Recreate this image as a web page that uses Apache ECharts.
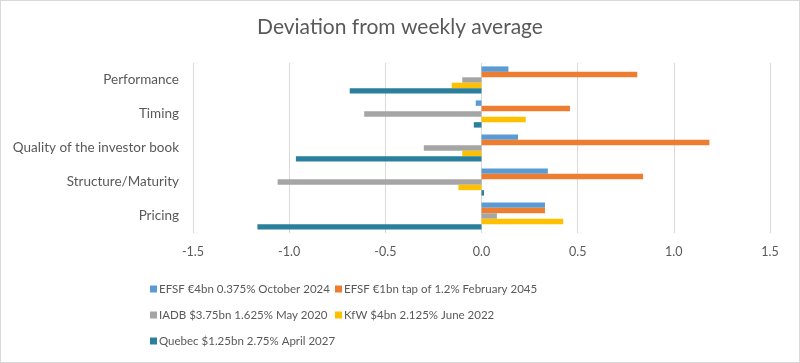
<!DOCTYPE html>
<html>
<head>
<meta charset="utf-8">
<script src="https://cdn.jsdelivr.net/npm/echarts@6/dist/echarts.min.js"></script>
<style>
  html, body { margin: 0; padding: 0; background: #fff; }
  #chart { width: 798px; height: 361px; border: 1px solid #d9d9d9; }
</style>
</head>
<body>
<div id="chart"></div>
<script>
// Deviation from weekly average - horizontal grouped bars

const categories = ["Performance", "Timing", "Quality of the investor book", "Structure/Maturity", "Pricing"];

const seriesNames = [
  "EFSF €4bn 0.375% October 2024",
  "EFSF €1bn tap of 1.2% February 2045",
  "IADB $3.75bn 1.625% May 2020",
  "KfW $4bn 2.125% June 2022",
  "Quebec $1.25bn 2.75% April 2027",
];

const efsf2024 = [0.14, -0.03, 0.19, 0.345, 0.33];
const efsf2045 = [0.81, 0.46, 1.185, 0.84, 0.33];
const iadb2020 = [-0.10, -0.61, -0.30, -1.06, 0.08];
const kfw2022 = [-0.155, 0.23, -0.10, -0.12, 0.425];
const quebec2027 = [-0.685, -0.04, -0.965, 0.013, -1.165];

const xTicks = [-1.5, -1.0, -0.5, 0.0, 0.5, 1.0, 1.5];

const colors = ["#5B9BD5", "#ED7D31", "#A5A5A5", "#FFC000", "#2A7F9A"];
const values = [efsf2024, efsf2045, iadb2020, kfw2022, quebec2027];

const chart = echarts.init(document.getElementById("chart"));

const textColor = "#595959";
const font = "Lato, 'Open Sans', sans-serif";

const legendCommon = {
  orient: "vertical",
  top: 277,
  itemWidth: 7,
  itemHeight: 7,
  itemGap: 14,
  icon: "rect",
  textStyle: { color: textColor, fontSize: 11.5, fontFamily: font, padding: [0, 0, 0, -3] },
};

const option = {
  animation: false,
  color: colors,
  title: {
    text: "Deviation from weekly average",
    left: "center",
    top: 11,
    textStyle: { color: textColor, fontSize: 21, fontWeight: "normal", fontFamily: font },
  },
  legend: [
    Object.assign({}, legendCommon, { left: 144, data: [seriesNames[0], seriesNames[2], seriesNames[4]] }),
    Object.assign({}, legendCommon, { left: 329, data: [seriesNames[1], seriesNames[3]] }),
  ],
  grid: {
    left: 192,
    right: 29,
    top: 62,
    bottom: 129,
  },
  xAxis: {
    type: "value",
    min: -1.5,
    max: 1.5,
    interval: 0.5,
    axisLine: { show: false },
    axisTick: { show: false },
    axisLabel: {
      color: textColor,
      fontSize: 12.5,
      fontFamily: font,
      margin: 12,
      formatter: (v) => xTicks.includes(v) ? v.toFixed(1) : "",
    },
    splitLine: { lineStyle: { color: "#d9d9d9" } },
  },
  yAxis: {
    type: "category",
    data: categories,
    inverse: true,
    axisLine: { show: false },
    axisTick: { show: false },
    axisLabel: {
      color: textColor,
      fontSize: 13.5,
      fontFamily: font,
      margin: 14,
    },
  },
  series: values.map((data, i) => ({
    name: seriesNames[i],
    type: "bar",
    data: data,
    barGap: "0%",
    barCategoryGap: "20%",
  })),
};

chart.setOption(option);
</script>
</body>
</html>
